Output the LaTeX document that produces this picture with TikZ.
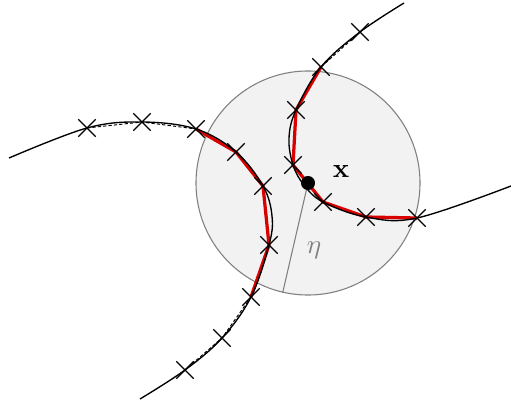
\documentclass[tikz,border=0pt]{standalone}
\usetikzlibrary{shapes.misc}

\begin{document}
\begin{tikzpicture}[
  x=0.37pt, y=-0.37pt,
  smpl/.style={cross out, inner sep=0pt, minimum size=6pt},
  curve/.style={line width=0.5pt, draw=black},
  chord/.style={line width=0.35pt, draw=black, dash pattern=on 1.2pt off 0.8pt},
  inside/.style={line width=1.2pt, draw=red!85!black},
  ball/.style={circle, fill=gray!10, draw=gray, line width=0.4pt, inner sep=0pt, minimum size=82.9pt}
]
  \useasboundingbox (0,0) rectangle (511,403);

  % --- Bola de radio eta ---
  \node[ball] (B) at (308,183) {};
  \draw[gray, line width=0.4pt] (B.center) -- (B.257);
  \node[text=gray] (eta) at (314,250) {$\eta$};
  \node (xlab) at (341,171) {$\mathbf{x}$};

  % --- Curva 1 (izquierda a abajo) ---
  \coordinate (a0) at (9,158);
  \node[smpl] (p1) at (87,128) {};
  \node[smpl] (p2) at (142,122) {};
  \node[smpl] (p3) at (196,129) {};
  \node[smpl] (p4) at (236,152) {};
  \node[smpl] (p5) at (263,186) {};
  \coordinate (a1) at (272,216);
  \node[smpl] (p6) at (269,245) {};
  \node[smpl] (p7) at (251,297) {};
  \node[smpl] (p8) at (222,338) {};
  \node[smpl] (p9) at (185,370) {};
  \coordinate (a2) at (140,399);

  % --- Curva 2 (arriba a derecha) ---
  \coordinate (b0) at (404,3);
  \node[smpl] (q1) at (360,32) {};
  \node[smpl] (q2) at (321,67) {};
  \node[smpl] (q3) at (296,110) {};
  \coordinate (b1) at (289,138);
  \node[smpl] (q4) at (293,165) {};
  \coordinate (b2) at (304,185);
  \node[smpl] (q5) at (323,202) {};
  \node[smpl] (q6) at (366,217) {};
  \node[smpl] (q7) at (417,218) {};
  \coordinate (b3) at (511,186);

  % segmentos dentro de la bola
  \draw[inside] (p3.center) -- (p4.center) -- (p5.center) -- (p6.center) -- (p7.center);
  \draw[inside] (q2.center) -- (q3.center) -- (q4.center) -- (q5.center) -- (q6.center) -- (q7.center);

  % segmentos fuera de la bola
  \draw[chord] (p1.center) -- (p2.center) -- (p3.center);
  \draw[chord] (p7.center) -- (p8.center) -- (p9.center);
  \draw[chord] (q1.center) -- (q2.center);

  \draw[curve] plot[smooth, tension=0.6] coordinates {(a0) (p1.center) (p2.center) (p3.center) (p4.center) (p5.center) (a1) (p6.center) (p7.center) (p8.center) (p9.center) (a2)};
  \draw[curve] plot[smooth, tension=0.6] coordinates {(b0) (q1.center) (q2.center) (q3.center) (b1) (q4.center) (b2) (q5.center) (q6.center) (q7.center) (b3)};

  % marcas encima
  \foreach \m in {p1,p2,p3,p4,p5,p6,p7,p8,p9,q1,q2,q3,q4,q5,q6,q7}
    \draw[line width=0.4pt] (\m.north west) -- (\m.south east) (\m.north east) -- (\m.south west);
  \node[circle, fill=black, inner sep=0pt, minimum size=5.2pt] (x) at (B.center) {};

\end{tikzpicture}
\end{document}
